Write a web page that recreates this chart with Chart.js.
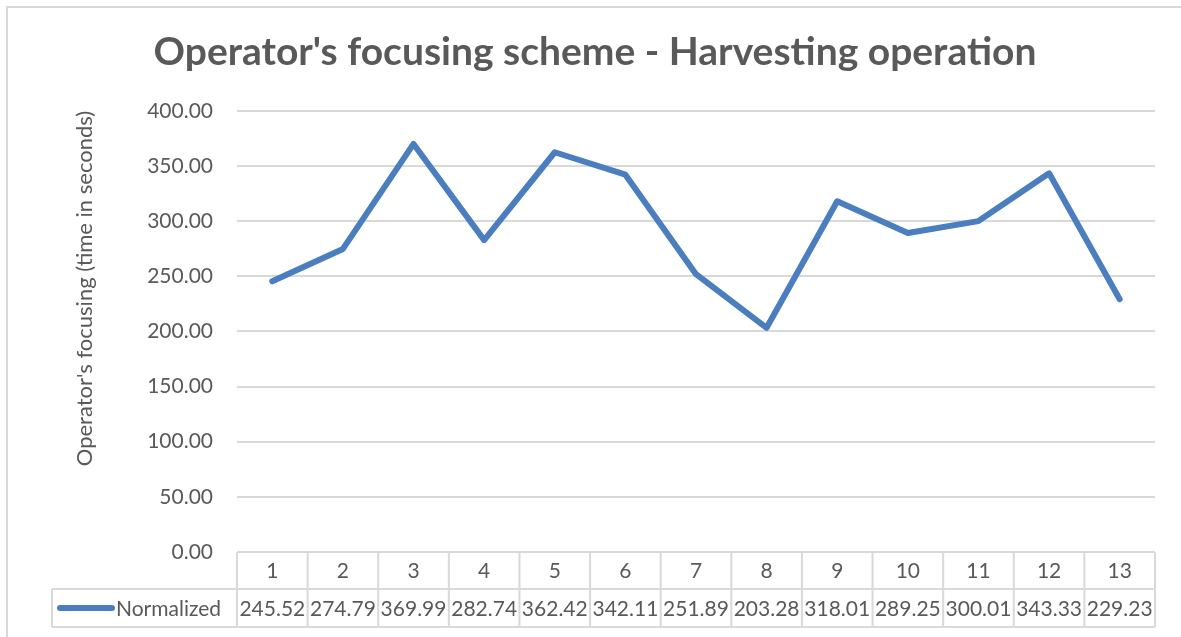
<!DOCTYPE html>
<html>
<head>
<meta charset="utf-8">
<script src="https://cdn.jsdelivr.net/npm/chart.js@4/dist/chart.umd.min.js"></script>
<style>
    html, body { margin: 0; padding: 0; background: #fff; }
    #wrap { width: 1181px; height: 637px; position: relative; }
</style>
</head>
<body>
<div id="wrap"><canvas id="focusChart" width="1181" height="637"></canvas></div>
<script>
const categories = ['1', '2', '3', '4', '5', '6', '7', '8', '9', '10', '11', '12', '13'];
const normalized = [245.52, 274.79, 369.99, 282.74, 362.42, 342.11, 251.89, 203.28, 318.01, 289.25, 300.01, 343.33, 229.23];
const seriesName = 'Normalized';
const yTicks = [0, 50, 100, 150, 200, 250, 300, 350, 400];

const TEXT = '#595959';
const GRID = '#D9D9D9';
const LINE = '#4A7EBF';
const FONT = 'Lato, "Open Sans", sans-serif';

// outer frame of the chart object
const framePlugin = {
    id: 'frame',
    beforeDraw(chart) {
        const ctx = chart.ctx;
        ctx.save();
        ctx.fillStyle = '#fff';
        ctx.fillRect(0, 0, chart.width, chart.height);
        ctx.strokeStyle = GRID;
        ctx.lineWidth = 2;
        ctx.strokeRect(7, 7, chart.width + 20, chart.height + 20);
        ctx.restore();
    }
};

// data table under the plot: category row + values row with legend key
const dataTablePlugin = {
    id: 'dataTable',
    afterDraw(chart) {
        const ctx = chart.ctx;
        const x = chart.scales.x;
        const area = chart.chartArea;
        const left = area.left, right = area.right;
        const top = area.bottom;
        const mid = top + 37;
        const bottom = top + 75;
        const keyLeft = 52;
        const colW = (right - left) / categories.length;

        ctx.save();
        ctx.strokeStyle = GRID;
        ctx.lineWidth = 2;
        ctx.beginPath();
        ctx.moveTo(left, top); ctx.lineTo(right, top);
        ctx.moveTo(keyLeft, mid); ctx.lineTo(right, mid);
        ctx.moveTo(keyLeft, bottom); ctx.lineTo(right, bottom);
        ctx.moveTo(keyLeft, mid); ctx.lineTo(keyLeft, bottom);
        for (let i = 0; i <= categories.length; i++) {
            const cx = left + i * colW;
            ctx.moveTo(cx, top); ctx.lineTo(cx, bottom);
        }
        ctx.stroke();

        ctx.fillStyle = TEXT;
        ctx.font = '21px ' + FONT;
        ctx.textAlign = 'center';
        ctx.textBaseline = 'middle';
        categories.forEach((c, i) => {
            const cx = x.getPixelForValue(i);
            ctx.fillText(c, cx, (top + mid) / 2 + 1);
            ctx.fillText(normalized[i].toFixed(2), cx, (mid + bottom) / 2 + 1);
        });

        // legend key
        const ky = (mid + bottom) / 2;
        ctx.strokeStyle = LINE;
        ctx.lineWidth = 6;
        ctx.lineCap = 'round';
        ctx.beginPath();
        ctx.moveTo(60, ky); ctx.lineTo(112, ky);
        ctx.stroke();
        ctx.textAlign = 'left';
        ctx.fillText(seriesName, 116, ky + 1);
        ctx.restore();
    }
};

const ctx = document.getElementById('focusChart').getContext('2d');
const focusChart = new Chart(ctx, {
    type: 'line',
    data: {
        labels: categories,
        datasets: [{
            label: seriesName,
            data: normalized,
            borderColor: LINE,
            borderWidth: 6,
            borderCapStyle: 'round',
            borderJoinStyle: 'round',
            pointRadius: 0,
            tension: 0,
            fill: false
        }]
    },
    options: {
        responsive: false,
        animation: false,
        layout: { padding: { left: 35, right: 26, top: 0, bottom: 0 } },
        plugins: {
            legend: { display: false },
            tooltip: { enabled: false },
            title: {
                display: true,
                text: "Operator's focusing scheme - Harvesting operation",
                color: TEXT,
                font: { family: FONT, size: 39, weight: 'bold', lineHeight: 1.2 },
                padding: { top: 29, bottom: 35 }
            }
        },
        scales: {
            x: {
                offset: true,
                grid: { display: false },
                border: { display: false },
                ticks: { display: false },
                afterFit(scale) { scale.height = 85; }
            },
            y: {
                min: 0,
                max: 400,
                afterBuildTicks(scale) { scale.ticks = yTicks.map(v => ({ value: v })); },
                afterFit(scale) { scale.width = 202; },
                grid: { color: GRID, lineWidth: 2, drawTicks: false },
                border: { display: false },
                ticks: {
                    padding: 24,
                    color: TEXT,
                    font: { family: FONT, size: 21 },
                    callback: v => v.toFixed(2)
                },
                title: {
                    display: true,
                    text: "Operator's focusing (time in seconds)",
                    align: 'end',
                    color: TEXT,
                    font: { family: FONT, size: 22 },
                    padding: { top: 37, bottom: 0 }
                }
            }
        }
    },
    plugins: [framePlugin, dataTablePlugin]
});
</script>
</body>
</html>
